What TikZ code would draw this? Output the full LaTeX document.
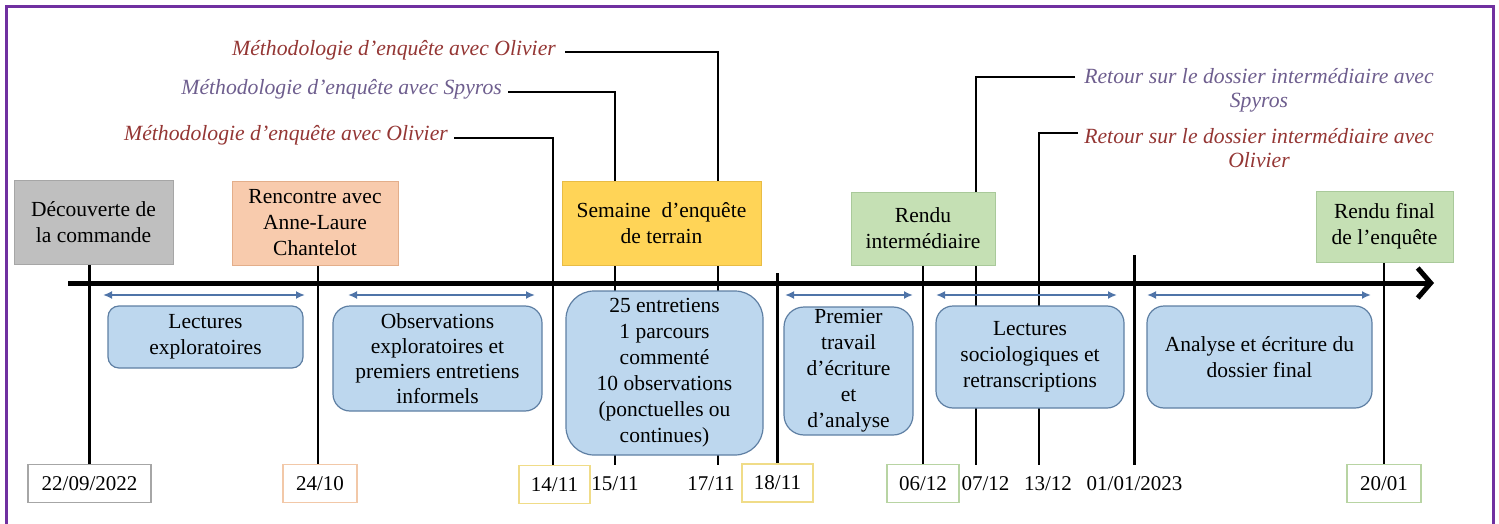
\documentclass[tikz,border=0pt]{standalone}
\usepackage{fontspec}
\setmainfont{Liberation Serif}
\usetikzlibrary{arrows.meta,calc}
\definecolor{framecol}{HTML}{7030A0}
\definecolor{grayfill}{HTML}{BFBFBF}
\definecolor{grayedge}{HTML}{A6A6A6}
\definecolor{peachfill}{HTML}{F8CBAD}
\definecolor{peachedge}{HTML}{E3AE8A}
\definecolor{yellowfill}{HTML}{FFD457}
\definecolor{yellowedge}{HTML}{E8BC45}
\definecolor{greenfill}{HTML}{C5E0B4}
\definecolor{greenedge}{HTML}{A9C99A}
\definecolor{boxfill}{HTML}{BDD7EE}
\definecolor{boxedge}{HTML}{5E7FA3}
\definecolor{arrowblue}{HTML}{4F74A8}
\definecolor{dgray}{HTML}{A6A6A6}
\definecolor{dpeach}{HTML}{F2C8A8}
\definecolor{dyellow}{HTML}{F0DC88}
\definecolor{dgreen}{HTML}{B8D4A3}
\definecolor{labred}{HTML}{943634}
\definecolor{labpurple}{HTML}{6E5E8E}
\pgfdeclarelayer{bg}
\pgfsetlayers{bg,main}
\begin{document}
\begin{tikzpicture}[x=1pt,y=-1pt,
  every node/.style={font=\fontsize{21.5}{26}\selectfont, inner sep=2pt, align=center},
  topbox/.style={line width=1pt},
  bluebox/.style={draw=boxedge, fill=boxfill, line width=1.2pt},
  datebox/.style={draw=#1, line width=1.2pt, minimum height=38pt, fill=white},
  datetext/.style={minimum height=38pt},
  datefont/.style={font=\fontsize{21}{25}\selectfont},
  vline/.style={line width=2.6pt, black},
  spanarrow/.style={draw=arrowblue, line width=2.2pt, {Latex[length=9pt,width=8pt]}-{Latex[length=9pt,width=8pt]}},
  redlab/.style={text=labred, font=\fontsize{21.7}{24}\selectfont\itshape},
  purplab/.style={text=labpurple, font=\fontsize{21.7}{24}\selectfont\itshape},
]
\useasboundingbox (0,0) rectangle (1499,524);
\clip (0,0) rectangle (1499,524);

% top boxes
\node[topbox, fill=grayfill, draw=grayedge, minimum width=159pt, minimum height=84pt] (dec) at (93.5,222) {Découverte de\\la commande};
\node[topbox, fill=peachfill, draw=peachedge, minimum width=166pt, minimum height=84pt] (ren) at (315,223) {Rencontre avec\\Anne-Laure\\Chantelot};
\node[topbox, fill=yellowfill, draw=yellowedge, minimum width=199pt, minimum height=84pt] (sem) at (661.5,223) {Semaine\ \ d’enquête\\de terrain};
\node[topbox, fill=greenfill, draw=greenedge, minimum width=144pt, minimum height=73pt] (rint) at (923,228.5) {Rendu\\intermédiaire};
\node[topbox, fill=greenfill, draw=greenedge, minimum width=137pt, minimum height=71pt] (rfin) at (1384.5,226.5) {Rendu final\\de l’enquête};

% activity boxes
\node[bluebox, rounded corners=11pt, minimum width=195pt, minimum height=62pt] (b1) at (205.5,337) {Lectures\\exploratoires};
\node[bluebox, rounded corners=17pt, minimum width=209pt, minimum height=105pt, font=\fontsize{21.5}{25}\selectfont] (b2) at (437.5,358.5) {Observations\\exploratoires et\\premiers entretiens\\informels};
\node[bluebox, rounded corners=28pt, minimum width=197pt, minimum height=164pt] (b3) at (664.5,373) {25 entretiens\\1 parcours\\commenté\\10 observations\\(ponctuelles ou\\continues)};
\node[bluebox, rounded corners=20pt, minimum width=129pt, minimum height=128pt, inner ysep=0pt] (b4) at (848.5,371) {Premier\\travail\\d’écriture\\et\\d’analyse};
\node[bluebox, rounded corners=17pt, minimum width=188pt, minimum height=102pt] (b5) at (1030,357) {Lectures\\sociologiques et\\retranscriptions};
\node[bluebox, rounded corners=17pt, minimum width=225pt, minimum height=102pt] (b6) at (1259.5,357) {Analyse et écriture du\\dossier final};

% dates
\node[datebox=dgray, datefont, minimum width=123pt] (d1) at (89.5,483.5) {22/09/2022};
\node[datebox=dpeach, datefont, minimum width=74pt] (d2) at (320,483.5) {24/10};
\node[datebox=dyellow, datefont, minimum width=71pt] (d3) at (554.5,484.5) {14/11};
\node[datetext, datefont] (d4) at (615,484) {15/11};
\node[datetext, datefont] (d5) at (711,484) {17/11};
\node[datebox=dyellow, datefont, minimum width=71pt] (d6) at (777.5,483) {18/11};
\node[datebox=dgreen, datefont, minimum width=72pt] (d7) at (923,483.5) {06/12};
\node[datetext, datefont] (d8) at (985.5,484) {07/12};
\node[datetext, datefont] (d9) at (1048,484) {13/12};
\node[datetext, datefont] (d10) at (1134.5,484) {01/01/2023};
\node[datebox=dgreen, datefont, minimum width=74pt] (d11) at (1384,483.5) {20/01};

% labels
\node[redlab, anchor=base east, inner sep=0pt] (mo1) at (556,56) {Méthodologie d’enquête avec Olivier};
\node[purplab, anchor=base east, inner sep=0pt] (ms) at (502,95) {Méthodologie d’enquête avec Spyros};
\node[redlab, anchor=base east, inner sep=0pt] (mo2) at (448,141) {Méthodologie d’enquête avec Olivier};
\node[purplab, inner sep=0pt] (rs) at (1259,90) {Retour sur le dossier intermédiaire avec\\Spyros};
\node[redlab, inner sep=0pt] (ro) at (1259,148) {Retour sur le dossier intermédiaire avec\\Olivier};

\coordinate (ax0) at (68,283);
\coordinate (ax1) at (1434,283);
\coordinate (t18) at (778,273);
\coordinate (t0101) at (1136,255);

\begin{pgfonlayer}{bg}
\draw[draw=framecol, line width=3pt] (6,7) rectangle (1493,545);
\draw[vline] (d1.north) -- (d1.north |- dec.south);
\draw[vline] ([xshift=-2pt]d2.north) -- ([xshift=-2pt]d2.north |- ren.south);
\draw[vline] ([xshift=6pt,yshift=3pt]mo2.base east) -| ([xshift=-1.5pt]d3.north);
\draw[vline] ([xshift=6pt,yshift=3pt]ms.base east) -| (d4.north);
\draw[vline] ([xshift=9pt,yshift=4pt]mo1.base east) -| ([xshift=7pt]d5.north);
\draw[vline] (d6.north) -- (d6.north |- t18);
\draw[vline] (d7.north) -- (d7.north |- rint.south);
\draw[vline] ([xshift=-9pt,yshift=-9pt]rs.north west) -| ([xshift=-9.5pt]d8.north);
\draw[vline] ([xshift=-6pt,yshift=-5pt]ro.north west) -| ([xshift=-9pt]d9.north);
\draw[vline] (d10.north) -- (d10.north |- t0101);
\draw[vline] (d11.north) -- (d11.north |- rfin.south);
\draw[line width=5pt, -{Straight Barb[length=13pt,width=30pt]}] (ax0) -- (ax1);
\coordinate (a1l) at (103,295); \coordinate (a1r) at (305,295);
\coordinate (a2l) at (348,295); \coordinate (a2r) at (535,295);
\coordinate (a3l) at (785,295); \coordinate (a3r) at (913,295);
\coordinate (a4l) at (936,295); \coordinate (a4r) at (1117,295);
\coordinate (a5l) at (1147,295); \coordinate (a5r) at (1371,295);
\draw[spanarrow] (a1l) -- (a1r);
\draw[spanarrow] (a2l) -- (a2r);
\draw[spanarrow] (a3l) -- (a3r);
\draw[spanarrow] (a4l) -- (a4r);
\draw[spanarrow] (a5l) -- (a5r);
\end{pgfonlayer}
\end{tikzpicture}
\end{document}
